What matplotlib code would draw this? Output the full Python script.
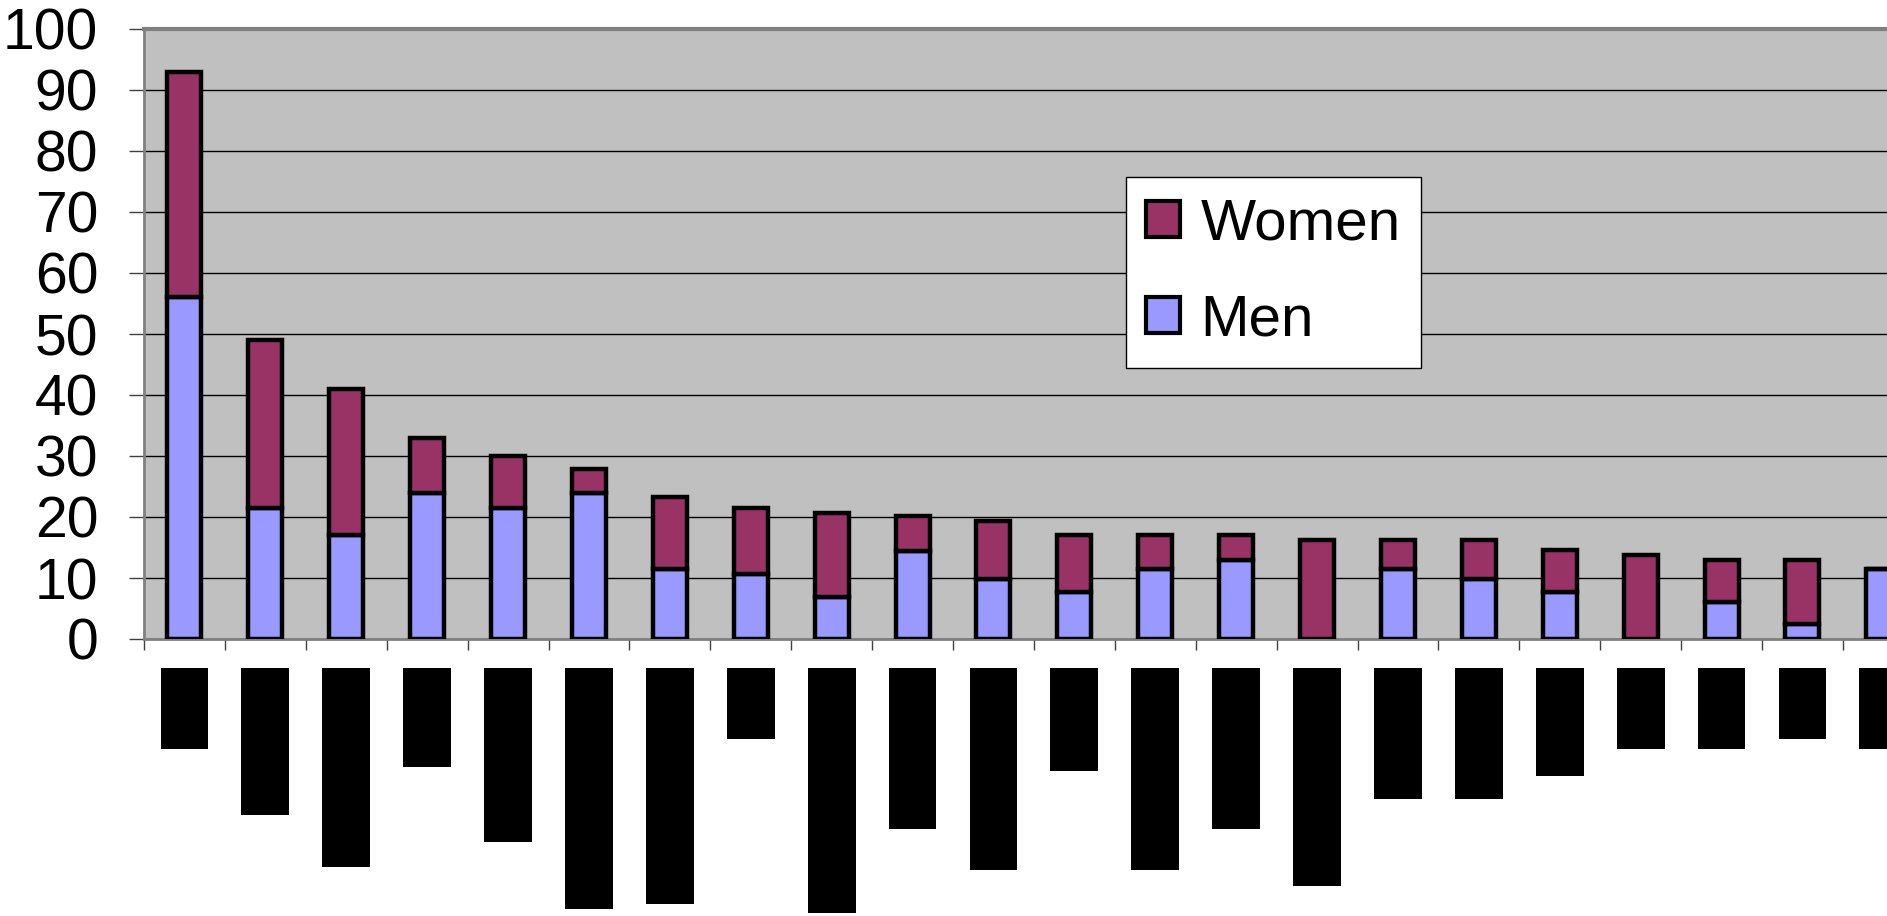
import numpy as np
import matplotlib.pyplot as plt
from matplotlib.patches import Patch

plt.rcParams['font.family'] = ['Liberation Sans', 'DejaVu Sans']

# head counts per group (22 groups, sorted by total)
men = [56, 21.5, 17, 24, 21.5, 24, 11.4, 10.7, 6.9, 14.4, 9.9,
       7.7, 11.4, 13, 0, 11.4, 9.9, 7.7, 0, 6.1, 2.4, 11.4]
women = [37, 27.5, 24, 9, 8.5, 3.8, 11.9, 10.8, 13.8, 5.7, 9.4,
         9.3, 5.6, 4, 16.2, 4.8, 6.3, 6.9, 13.8, 6.9, 10.6, 0]
# length of the blacked-out category labels
label_len = [81, 147, 199, 99, 174, 241, 236, 71, 245, 161, 202,
             103, 202, 161, 218, 131, 131, 108, 81, 81, 71, 81]

WOMEN_C = '#993366'
MEN_C = '#9999FF'
GRID_C = '#808080'

W, H = 1887, 916
fig = plt.figure(figsize=(W / 100, H / 100), dpi=100)

x = np.arange(len(men))
left = 144 / W
width = 22 * 80.9 / W

ax = fig.add_axes([left, (H - 639) / H, width, 610 / H])
ax.set_facecolor('#C0C0C0')
ax.bar(x, men, width=0.42, color=MEN_C, edgecolor='black', linewidth=3.2, zorder=3)
ax.bar(x, women, width=0.42, bottom=men, color=WOMEN_C, edgecolor='black',
       linewidth=3.2, zorder=3)

ax.set_xlim(-0.5, len(men) - 0.5)
ax.set_ylim(0, 100)
ax.set_yticks(range(0, 101, 10))
ax.yaxis.grid(True, color='black', linewidth=1.0, zorder=1)
ax.set_axisbelow(True)
ax.tick_params(axis='y', direction='out', length=11, width=1, color='#404040',
               labelsize=41, pad=22)
ax.set_xticks([])
ax.set_xticks(np.arange(-0.5, len(men)), minor=True)
ax.tick_params(axis='x', which='minor', direction='out', length=8, width=1,
               color='#404040')
for side in ['left', 'bottom']:
    ax.spines[side].set_color(GRID_C)
    ax.spines[side].set_linewidth(2)
ax.spines['top'].set_color(GRID_C)
ax.spines['top'].set_linewidth(3)
ax.spines['right'].set_visible(False)

# blacked-out category names under the axis
lab = fig.add_axes([left, 0, width, (H - 668) / H])
lab.bar(x, label_len, width=0.59, color='black')
lab.set_xlim(-0.5, len(men) - 0.5)
lab.set_ylim(H - 668, 0)
lab.axis('off')

handles = [Patch(facecolor=WOMEN_C, edgecolor='black', linewidth=3, label='Women'),
           Patch(facecolor=MEN_C, edgecolor='black', linewidth=3, label='Men')]
leg = fig.legend(handles=handles, loc='upper left',
                 bbox_to_anchor=(1126 / W, 1 - 177 / H), fontsize=42,
                 frameon=True, fancybox=False, framealpha=1,
                 handlelength=0.58, handleheight=0.58,
                 handletextpad=0.35, labelspacing=0.72, borderpad=0.35,
                 borderaxespad=0)
leg.get_frame().set_facecolor('white')
leg.get_frame().set_edgecolor('black')
leg.get_frame().set_linewidth(1)

fig.savefig('out.png', dpi=100, facecolor='white')
